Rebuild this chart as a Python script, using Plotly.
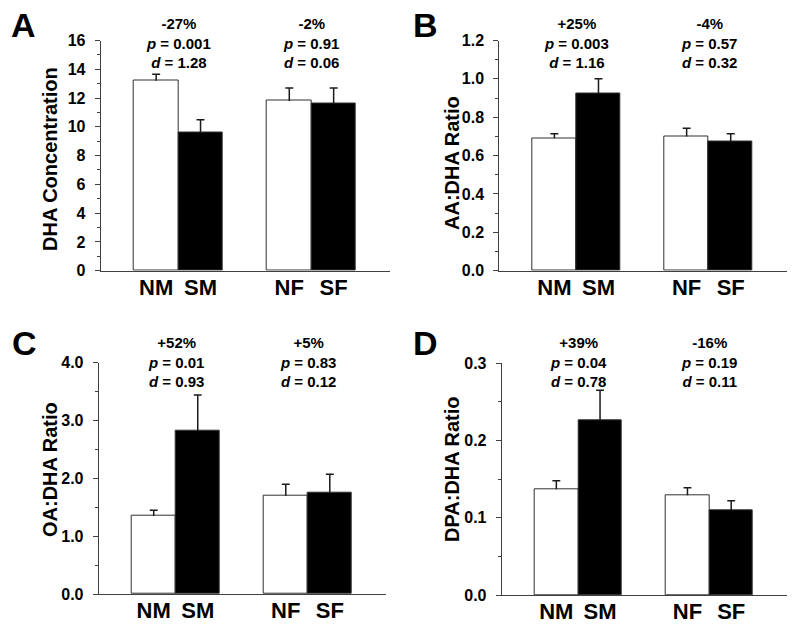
import plotly.graph_objects as go

# ---------------- data ----------------
groups = ["NM", "SM", "NF", "SF"]

dha_mean = [13.2, 9.6, 11.8, 11.6]
dha_sem = [0.45, 0.9, 0.9, 1.1]

aa_mean = [0.69, 0.925, 0.70, 0.673]
aa_sem = [0.024, 0.075, 0.042, 0.041]

oa_mean = [1.35, 2.82, 1.70, 1.76]
oa_sem = [0.10, 0.62, 0.20, 0.31]

dpa_mean = [0.137, 0.226, 0.129, 0.110]
dpa_sem = [0.011, 0.039, 0.010, 0.012]

panel_letters = ["A", "B", "C", "D"]
y_titles = ["DHA Concentration", "AA:DHA Ratio", "OA:DHA Ratio", "DPA:DHA Ratio"]

pct_change = [["-27%", "-2%"], ["+25%", "-4%"], ["+52%", "+5%"], ["+39%", "-16%"]]
p_values = [["0.001", "0.91"], ["0.003", "0.57"], ["0.01", "0.83"], ["0.04", "0.19"]]
d_values = [["1.28", "0.06"], ["1.16", "0.32"], ["0.93", "0.12"], ["0.78", "0.11"]]

y_max = [16, 1.2, 4.0, 0.3]
y_dtick = [2, 0.2, 1.0, 0.1]
y_minor = [1, 0.1, 0.5, 0.05]
y_fmt = ["d", ".1f", ".1f", ".1f"]

means = [dha_mean, aa_mean, oa_mean, dpa_mean]
sems = [dha_sem, aa_sem, oa_sem, dpa_sem]

# ---------------- layout geometry (pixels) ----------------
W, H = 800, 630
# plot areas: (left, right, top, bottom) in pixels
areas = [
    (100.7, 390.0, 40.5, 270.7),
    (499.3, 786.7, 40.5, 270.7),
    (98.7, 385.7, 362.7, 594.0),
    (501.7, 786.7, 363.3, 595.0),
]
letter_pos = [(23.5, 25.5), (425, 25.5), (24, 343.5), (425, 343.5)]
title_pos = [(50, 159), (452, 163), (50, 470), (452, 469)]
annot_y = [43, 43, 362.5, 362]

FONT = "Liberation Sans, Arial, sans-serif"
AXCOL = "#404040"
XR = [-1.25, 5.27]
CAP = 0.09  # half-width of error-bar caps, in bar-width units

# x positions: two bars per group, one empty slot between groups
xpos = [(i // 2) * 3 + (i % 2) for i in range(len(groups))]
bar_colors = ["white" if i % 2 == 0 else "black" for i in range(len(groups))]

fig = go.Figure()
layout = dict(
    width=W, height=H,
    margin=dict(l=0, r=0, t=0, b=0, pad=0, autoexpand=False),
    paper_bgcolor="white", plot_bgcolor="white",
    showlegend=False,
    font=dict(family=FONT, color="black"),
    bargap=0,
)
annotations = []

for k in range(4):
    sfx = "" if k == 0 else str(k + 1)
    l, r, t, b = areas[k]
    fig.add_trace(go.Bar(
        x=xpos, y=means[k], width=1.0,
        marker=dict(color=bar_colors, line=dict(color="#303030", width=1)),
        xaxis="x" + sfx, yaxis="y" + sfx,
        hovertext=groups,
    ))
    # upward-only error bars (stem + cap) built from mean and SEM
    ex, ey = [], []
    for xi, m, s in zip(xpos, means[k], sems[k]):
        ex += [xi, xi, None, xi - CAP, xi + CAP, None]
        ey += [m, m + s, None, m + s, m + s, None]
    fig.add_trace(go.Scatter(
        x=ex, y=ey, mode="lines",
        line=dict(color="#1a1a1a", width=1.5),
        xaxis="x" + sfx, yaxis="y" + sfx, hoverinfo="skip",
    ))
    layout["xaxis" + sfx] = dict(
        domain=[l / W, r / W], anchor="y" + sfx,
        range=XR, automargin=False,
        tickvals=xpos, ticktext=groups,
        ticks="", showgrid=False, zeroline=False,
        showline=True, linecolor=AXCOL, linewidth=1,
        tickfont=dict(family=FONT, size=22, color="black", weight="bold"),
        ticklabelstandoff=-3,
    )
    layout["yaxis" + sfx] = dict(
        domain=[1 - b / H, 1 - t / H], anchor="x" + sfx,
        range=[0, y_max[k]], automargin=False,
        dtick=y_dtick[k], tick0=0, tickformat=y_fmt[k],
        ticks="outside", ticklen=5, tickcolor=AXCOL, tickwidth=1,
        minor=dict(dtick=y_minor[k], tick0=0, ticks="outside", ticklen=3,
                   tickcolor=AXCOL, tickwidth=1, showgrid=False),
        showgrid=False, zeroline=False,
        showline=True, linecolor=AXCOL, linewidth=1,
        tickfont=dict(family=FONT, size=16, color="black", weight="bold"),
        ticklabelstandoff=6,
    )
    # panel letter
    lx, ly = letter_pos[k]
    annotations.append(dict(
        text=panel_letters[k], xref="paper", yref="paper",
        x=lx / W, y=1 - ly / H, xanchor="center", yanchor="middle",
        showarrow=False,
        font=dict(family=FONT, size=34, color="black", weight="bold"),
    ))
    # y-axis title
    tx, ty = title_pos[k]
    annotations.append(dict(
        text=y_titles[k], xref="paper", yref="paper",
        x=tx / W, y=1 - ty / H, xanchor="center", yanchor="middle",
        textangle=-90, showarrow=False,
        font=dict(family=FONT, size=20, color="black", weight="bold"),
    ))
    # statistics above each pair
    for g in range(2):
        xc = (xpos[2 * g] + xpos[2 * g + 1]) / 2
        txt = (f"{pct_change[k][g]}<br><i>p</i> = {p_values[k][g]}"
               f"<br><i>d</i> = {d_values[k][g]}")
        annotations.append(dict(
            text=txt, xref="x" + sfx, yref="paper",
            x=xc, y=1 - annot_y[k] / H, xanchor="center", yanchor="middle",
            align="center", showarrow=False,
            font=dict(family=FONT, size=15, color="black", weight="bold"),
        ))

layout["annotations"] = annotations
fig.update_layout(**layout)
fig.write_html(
    "out.html",
    config={"displayModeBar": False},
    post_script="document.body.style.margin='0';document.body.style.padding='0';",
)
